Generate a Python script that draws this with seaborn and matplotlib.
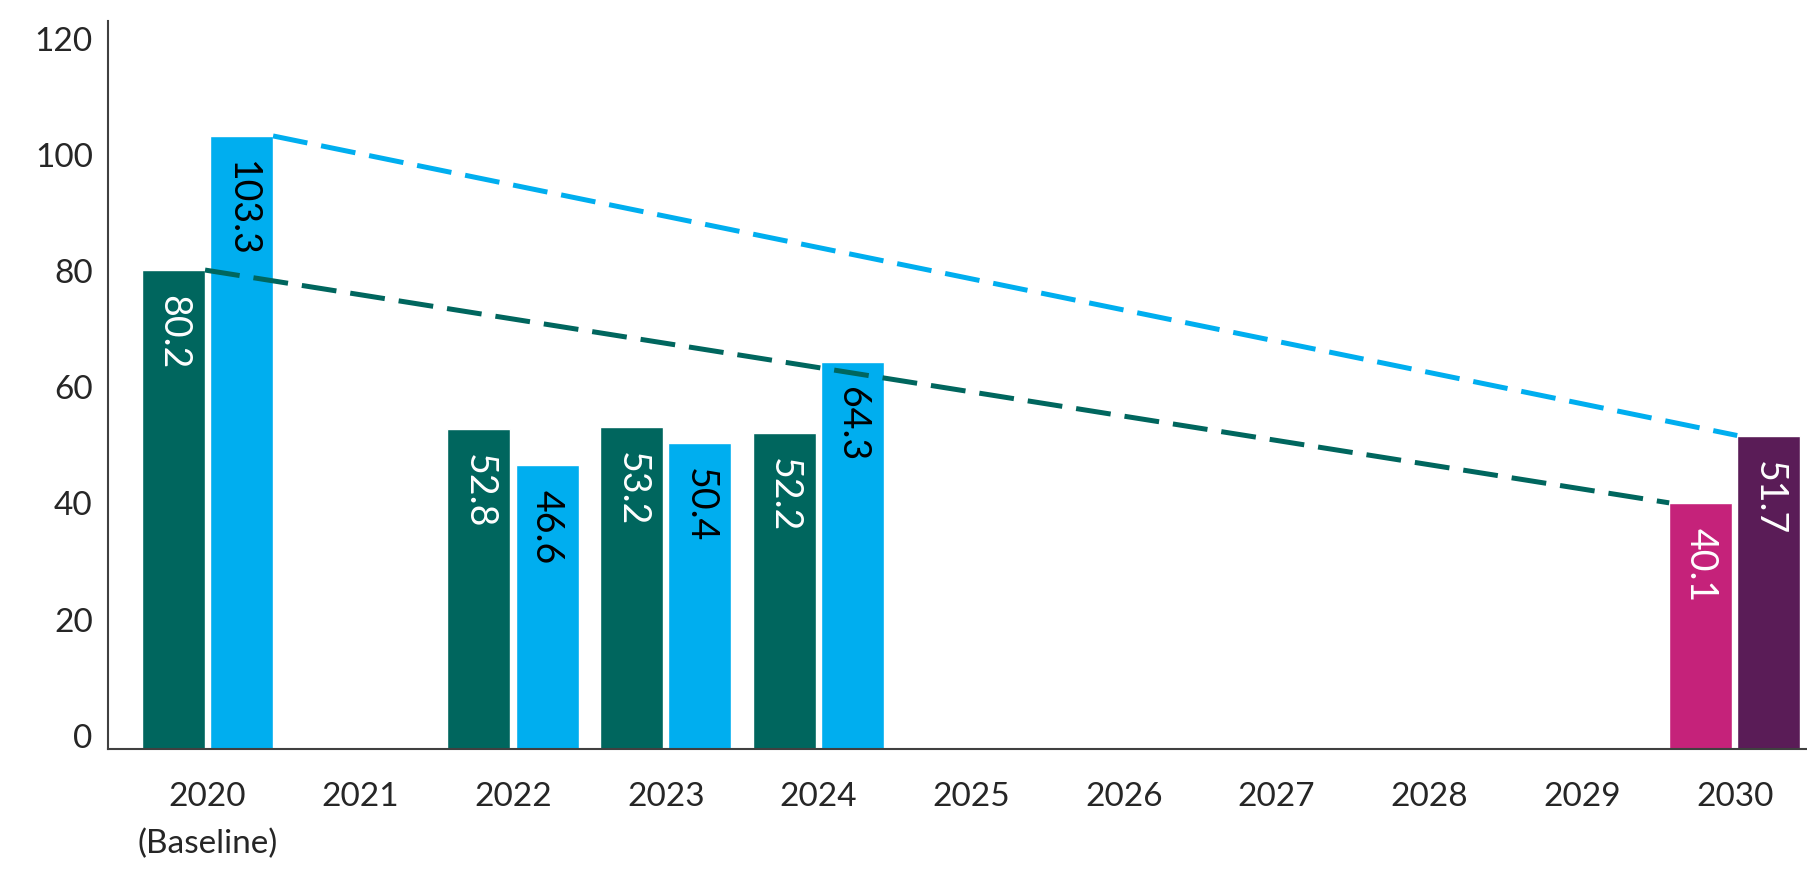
import pandas as pd
import seaborn as sns
import matplotlib.pyplot as plt

years = ['2020\n(Baseline)', '2021', '2022', '2023', '2024', '2025',
         '2026', '2027', '2028', '2029', '2030']
# first series (teal; 2030 target in magenta)
s1_years = ['2020\n(Baseline)', '2022', '2023', '2024', '2030']
s1_vals = [80.2, 52.8, 53.2, 52.2, 40.1]
# second series (blue; 2030 target in purple)
s2_years = ['2020\n(Baseline)', '2022', '2023', '2024', '2030']
s2_vals = [103.3, 46.6, 50.4, 64.3, 51.7]

teal = '#00665E'
blue = '#00AEEF'
target_colors = ['#C5227A', '#5A1C57']
label_colors = ['white', 'black']
target_label_colors = ['white', 'white']

sns.set_style('white')
plt.rcParams['font.family'] = ['Lato', 'DejaVu Sans']

df = pd.concat([
    pd.DataFrame({'year': s1_years, 'value': s1_vals, 'series': 's1'}),
    pd.DataFrame({'year': s2_years, 'value': s2_vals, 'series': 's2'}),
])

fig = plt.figure(figsize=(18.08, 8.94), dpi=100)
ax = fig.add_axes([108 / 1808, (894 - 749) / 894, 1 - 108 / 1808, (749 - 21) / 894])

sns.barplot(data=df, x='year', y='value', hue='series', order=years,
            hue_order=['s1', 's2'], palette=[teal, blue], width=0.891, gap=0.074,
            saturation=1, legend=False, ax=ax)

ymin = -2.3
ax.set_ylim(ymin, 123.1)
ax.set_xlim(-0.652, 10.48)

# collect bars: (series index, category index) -> patch
bars = {}
for si, cont in enumerate(ax.containers):
    for p in cont:
        if p.get_height() != p.get_height() or p.get_height() == 0:
            continue
        ci = int(round(p.get_x() + p.get_width() / 2))
        bars[(si, ci)] = p

last = len(years) - 1
tops = {}
for (si, ci), p in bars.items():
    v = p.get_height()
    tops[(si, ci)] = v
    if ci == last:
        p.set_facecolor(target_colors[si])
        tc = target_label_colors[si]
    else:
        tc = label_colors[si]
    ax.annotate(f'{v:.1f}', (p.get_x() + p.get_width() / 2, v), xytext=(0, -18),
                textcoords='offset points', rotation=270, ha='center', va='top',
                fontsize=27, color=tc)
    # let bars sit on the axis line
    p.set_y(ymin)
    p.set_height(v - ymin)

# dashed trajectory lines from baseline to 2030 target
line_colors = [teal, blue]
for si in range(2):
    b0 = bars[(si, 0)]
    b1 = bars[(si, last)]
    ax.plot([b0.get_x() + b0.get_width(), b1.get_x()],
            [tops[(si, 0)], tops[(si, last)]],
            color=line_colors[si], lw=3.6, dashes=(7, 2.8), solid_capstyle='butt')

ax.set_yticks([0, 20, 40, 60, 80, 100, 120])
ax.tick_params(axis='y', length=0, pad=11, labelsize=24)
ax.tick_params(axis='x', length=0, pad=24, labelsize=24)
for t in ax.get_xticklabels():
    t.set_linespacing(1.65)
ax.set_xlabel('')
ax.set_ylabel('')
for s in ['top', 'right']:
    ax.spines[s].set_visible(False)
for s in ['left', 'bottom']:
    ax.spines[s].set_color('#404040')
    ax.spines[s].set_linewidth(1.5)

fig.savefig('out.png', dpi=100)
